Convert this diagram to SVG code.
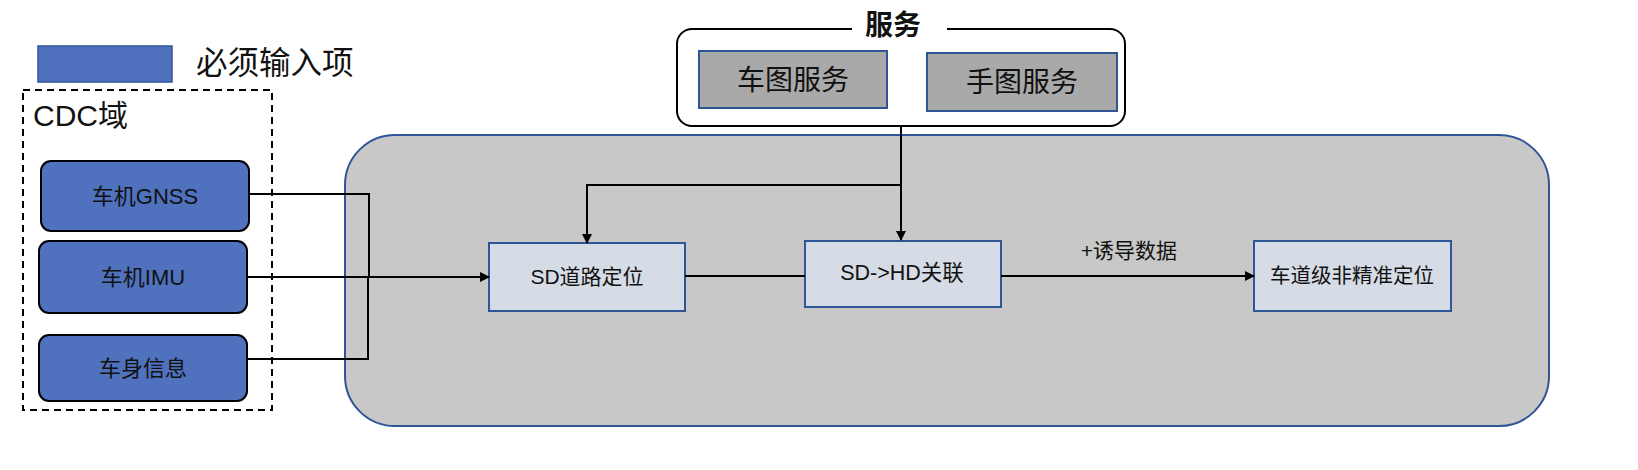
<svg xmlns="http://www.w3.org/2000/svg" width="1638" height="470" viewBox="0 0 1638 470">
<defs>
<marker id="arr" markerWidth="10" markerHeight="10" refX="9" refY="5" orient="auto" markerUnits="userSpaceOnUse">
<path d="M0,0 L10,5 L0,10 Z" fill="#000"/>
</marker>
<style>
text{font-family:"Liberation Sans","Noto Sans CJK SC",sans-serif;fill:#111;}
.input rect{fill:#4f71be;stroke:#000;stroke-width:2;}
.proc rect{fill:#d6dce5;stroke:#2f5597;stroke-width:2;}
.svc rect{fill:#aaa9a9;stroke:#2f5597;stroke-width:2;}
.conn path{fill:none;stroke:#000;stroke-width:2;}
</style>
</defs>
<rect width="1638" height="470" fill="#fff"/>

<g id="legend">
<rect x="38" y="46" width="134" height="36" fill="#4f71be" stroke="#2f5597" stroke-width="1.5"/>
<text x="196" y="74" font-size="31.5">必须输入项</text>
</g>

<g id="cdc-domain">
<rect x="23" y="90" width="249" height="320" fill="none" stroke="#000" stroke-width="2" stroke-dasharray="7,5"/>
<text x="33" y="126" font-size="30">CDC域</text>
</g>

<g id="main-area">
<rect x="345" y="135" width="1204" height="291" rx="50" ry="50" fill="#c8c8c8" stroke="#2f5597" stroke-width="2"/>
</g>

<g id="services">
<rect x="677" y="29" width="448" height="97" rx="15" ry="15" fill="#fff" stroke="#000" stroke-width="2"/>
<rect x="852" y="14" width="95" height="30" fill="#fff"/>
<text x="893" y="35" font-size="28" font-weight="bold" text-anchor="middle">服务</text>
</g>

<g id="car-map-service" class="svc">
<rect x="699" y="51" width="188" height="57"/>
<text x="793" y="90" font-size="28" text-anchor="middle">车图服务</text>
</g>
<g id="phone-map-service" class="svc">
<rect x="927" y="53" width="190" height="58"/>
<text x="1022" y="92" font-size="28" text-anchor="middle">手图服务</text>
</g>

<g id="gnss" class="input">
<rect x="41" y="161" width="208" height="70" rx="10" ry="10"/>
<text x="145" y="204" font-size="22" text-anchor="middle">车机GNSS</text>
</g>
<g id="imu" class="input">
<rect x="39" y="241" width="208" height="72" rx="10" ry="10"/>
<text x="143" y="285" font-size="22" text-anchor="middle">车机IMU</text>
</g>
<g id="body-info" class="input">
<rect x="39" y="335" width="208" height="66" rx="10" ry="10"/>
<text x="143" y="376" font-size="22" text-anchor="middle">车身信息</text>
</g>

<g id="sd-road" class="proc">
<rect x="489" y="243" width="196" height="68"/>
<text x="587" y="284" font-size="21" text-anchor="middle">SD道路定位</text>
</g>
<g id="sd-hd" class="proc">
<rect x="805" y="241" width="196" height="66"/>
<text x="902" y="280" font-size="21.5" text-anchor="middle">SD-&gt;HD关联</text>
</g>
<g id="lane-level" class="proc">
<rect x="1254" y="241" width="197" height="70" fill="#dae1f0"/>
<text x="1352" y="283" font-size="20.5" text-anchor="middle">车道级非精准定位</text>
</g>

<g id="connectors" class="conn">
<path d="M249,194 H369 V277"/>
<path d="M247,359 H368 V277"/>
<path d="M247,277 H489" marker-end="url(#arr)"/>
<path d="M901,126 V240" marker-end="url(#arr)"/>
<path d="M901,185 H587 V243" marker-end="url(#arr)"/>
<path d="M685,276 H805"/>
<path d="M1001,276 H1254" marker-end="url(#arr)"/>
<text x="1129" y="258" font-size="21" text-anchor="middle" stroke="none">+诱导数据</text>
</g>
</svg>
